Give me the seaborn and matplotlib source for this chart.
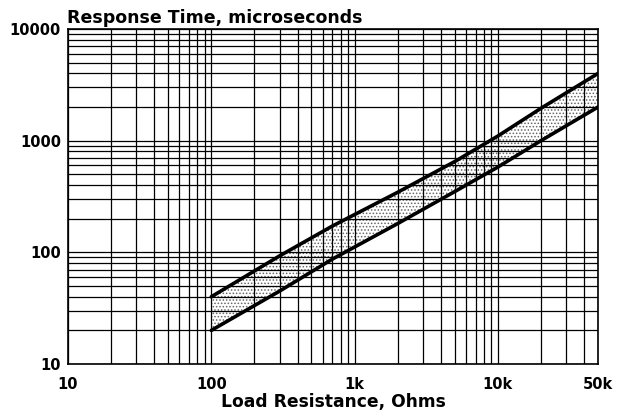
"""Response time vs load resistance, log-log band chart."""

import pandas as pd
import matplotlib
matplotlib.use("Agg")
import matplotlib.pyplot as plt
from matplotlib.ticker import LogLocator, FixedLocator, NullFormatter
import seaborn as sns

sns.set_theme(style="white")
plt.rcParams["font.family"] = ["DejaVu Sans"]
plt.rcParams["hatch.linewidth"] = 0.7
for key in ["text.color", "axes.labelcolor", "xtick.color", "ytick.color"]:
    plt.rcParams[key] = "black"

# ── Data ─────────────────────────────────────────────────────────────────────
load_ohms = [100, 300, 700, 2000, 5000, 10000, 20000, 50000]
resp_upper = [40, 93, 172, 345, 650, 1100, 1950, 4000]
resp_lower = [20, 45, 87, 181, 350, 580, 1000, 2000]

x_ticks = [10, 100, 1000, 10000, 50000]
x_labels = ["10", "100", "1k", "10k", "50k"]
y_ticks = [10, 100, 1000, 10000]
y_labels = ["10", "100", "1000", "10000"]

df = pd.DataFrame({
    "load": load_ohms * 2,
    "resp": resp_upper + resp_lower,
    "edge": ["upper"] * len(load_ohms) + ["lower"] * len(load_ohms),
})

# ── Figure ───────────────────────────────────────────────────────────────────
fig = plt.figure(figsize=(6.25, 4.13), dpi=100)
ax = fig.add_axes([0.1088, 0.1186, 0.848, 0.8112])

ax.fill_between(load_ohms, resp_lower, resp_upper, facecolor="white",
                edgecolor="0.4", hatch=".....", linewidth=0, zorder=0.3)
sns.lineplot(data=df, x="load", y="resp", units="edge", estimator=None,
             color="black", lw=2.6, ax=ax, zorder=3, legend=False)

ax.set_xscale("log")
ax.set_yscale("log")
ax.set_xlim(10, 50000)
ax.set_ylim(10, 10000)

ax.xaxis.set_major_locator(FixedLocator(x_ticks))
ax.set_xticklabels(x_labels)
ax.yaxis.set_major_locator(FixedLocator(y_ticks))
ax.set_yticklabels(y_labels)
ax.xaxis.set_minor_locator(LogLocator(base=10, subs=range(1, 10), numticks=20))
ax.yaxis.set_minor_locator(LogLocator(base=10, subs=range(1, 10), numticks=20))
ax.xaxis.set_minor_formatter(NullFormatter())
ax.yaxis.set_minor_formatter(NullFormatter())

ax.set_axisbelow(True)
ax.grid(which="both", color="black", lw=0.9)
ax.tick_params(which="both", length=0)
ax.tick_params(axis="x", pad=9, labelsize=10.5)
ax.tick_params(axis="y", pad=5, labelsize=10.5)
for lab in ax.get_xticklabels() + ax.get_yticklabels():
    lab.set_fontweight("bold")
for sp in ax.spines.values():
    sp.set_color("black")
    sp.set_linewidth(1.2)

ax.set_xlabel("Load Resistance, Ohms", fontsize=12.3, fontweight="bold", labelpad=1)
ax.set_ylabel("")
ax.set_title("Response Time, microseconds", loc="left", fontsize=12.5,
             fontweight="bold", pad=4, x=-0.002)

fig.savefig("out.png", dpi=100)
plt.close()
